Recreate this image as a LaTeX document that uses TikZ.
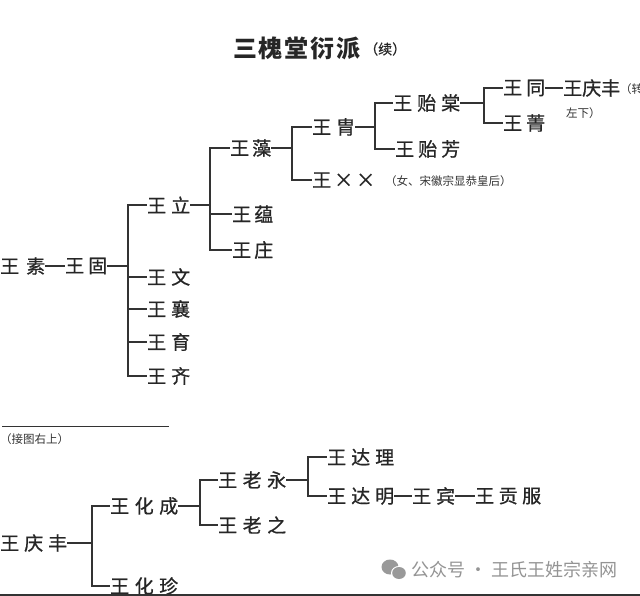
\documentclass[tikz,border=0pt]{standalone}
\usepackage{fontspec}
\newfontfamily\cjk{Noto Sans CJK SC}
\newfontfamily\cjkm[FakeBold=0.7]{Noto Sans CJK SC}
\usetikzlibrary{calc}
\newcommand\wtwo[3]{\hbox to #1pt{#2\hfill #3}}
\newcommand\wthree[4]{\hbox to #1pt{#2\hfill #3\hfill #4}}
\tikzset{
  nm/.style={anchor=west, inner sep=0pt, font=\cjkm\fontsize{19}{19}\selectfont, text=black!85},
  small/.style={anchor=west, inner sep=0pt, font=\cjk\fontsize{11.5}{11.5}\selectfont, text=black!80},
  ln/.style={draw=black!80, line width=1.3pt},
}
\begin{document}
\begin{tikzpicture}[x=1pt,y=-1pt]
\useasboundingbox (0,0) rectangle (640,596);
\fill[white] (0,0) rectangle (640,596);
% title
\node[anchor=west, inner sep=0pt, font=\cjk\bfseries\fontsize{24}{24}\selectfont, text=black!85] (title) at (233,48) {\hbox to 127pt{三\hfill 槐\hfill 堂\hfill 衍\hfill 派}};
\node[anchor=west, inner sep=0pt, font=\cjkm\fontsize{14}{14}\selectfont, text=black!85] (xu) at (364,49) {（续）};
% top tree
\node[nm] (su) at (0,266) {\wtwo{45}{王}{素}};
\node[nm] (gu) at (65,266) {\wtwo{42}{王}{固}};
\node[nm] (li) at (147,205) {\wtwo{43}{王}{立}};
\node[nm] (wen) at (147,277) {\wtwo{43}{王}{文}};
\node[nm] (xiang) at (147,309) {\wtwo{43}{王}{襄}};
\node[nm] (yu) at (147,342) {\wtwo{43}{王}{育}};
\node[nm] (qi) at (147,376) {\wtwo{43}{王}{齐}};
\node[nm] (zao) at (230,148) {\wtwo{41}{王}{藻}};
\node[nm] (yun) at (232,214) {\wtwo{41}{王}{蕴}};
\node[nm] (zhuang) at (232,250) {\wtwo{41}{王}{庄}};
\node[nm] (zhou) at (312,127) {\wtwo{43}{王}{胄}};
\node[nm] (xx) at (312,180) {\wthree{63}{王}{×}{×}};
\node[small] (note) at (385,181) {（女、宋徽宗显恭皇后）};
\node[nm] (yitang) at (393,103) {\wthree{67}{王}{贻}{棠}};
\node[nm] (yifang) at (395,149) {\wthree{65}{王}{贻}{芳}};
\node[nm] (tong) at (503,88) {\wtwo{42}{王}{同}};
\node[nm] (qf1) at (563,88) {\wthree{57}{王}{庆}{丰}};
\node[small] (zhuan) at (620,89) {（转};
\node[small] (zuoxia) at (566,113) {左下）};
\node[nm] (jing) at (503,123) {\wtwo{42}{王}{菁}};
\coordinate (bgu) at (128,266);
\coordinate (bli) at (210,205);
\coordinate (bzao) at (292,148);
\coordinate (bzhou) at (375,127);
\coordinate (byt) at (484,103);
\draw[ln] (su.east) -- (gu.west);
\draw[ln] (gu.east) -- (bgu);
\foreach \c in {li,wen,xiang,yu,qi} \draw[ln] (bgu) |- (\c.west);
\draw[ln] (li.east) -- (bli);
\foreach \c in {zao,yun,zhuang} \draw[ln] (bli) |- (\c.west);
\draw[ln] (zao.east) -- (bzao);
\foreach \c in {zhou,xx} \draw[ln] (bzao) |- (\c.west);
\draw[ln] (zhou.east) -- (bzhou);
\foreach \c in {yitang,yifang} \draw[ln] (bzhou) |- (\c.west);
\draw[ln] (yitang.east) -- (byt);
\foreach \c in {tong,jing} \draw[ln] (byt) |- (\c.west);
\draw[ln] (tong.east) -- (qf1.west);
% separator
\coordinate (s1) at (2,426);
\coordinate (s2) at (169,426);
\draw[draw=black!80, line width=1pt] (s1) -- (s2);
\node[small] (jie) at (0,439) {（接图右上）};
% bottom tree
\node[nm] (qf2) at (0,543) {\wthree{67}{王}{庆}{丰}};
\node[nm] (huacheng) at (110,506) {\wthree{68}{王}{化}{成}};
\node[nm] (huazhen) at (110,586) {\wthree{68}{王}{化}{珍}};
\node[nm] (laoyong) at (218,480) {\wthree{68}{王}{老}{永}};
\node[nm] (laozhi) at (218,525) {\wthree{68}{王}{老}{之}};
\node[nm] (dali) at (327,457) {\wthree{67}{王}{达}{理}};
\node[nm] (daming) at (327,496) {\wthree{67}{王}{达}{明}};
\node[nm] (bin) at (412,496) {\wtwo{43}{王}{宾}};
\node[nm] (gongfu) at (475,496) {\wthree{66}{王}{贡}{服}};
\coordinate (bqf) at (92,543);
\coordinate (bhc) at (200,506);
\coordinate (bly) at (308,480);
\draw[ln] (qf2.east) -- (bqf);
\foreach \c in {huacheng,huazhen} \draw[ln] (bqf) |- (\c.west);
\draw[ln] (huacheng.east) -- (bhc);
\foreach \c in {laoyong,laozhi} \draw[ln] (bhc) |- (\c.west);
\draw[ln] (laoyong.east) -- (bly);
\foreach \c in {dali,daming} \draw[ln] (bly) |- (\c.west);
\draw[ln] (daming.east) -- (bin.west);
\draw[ln] (bin.east) -- (gongfu.west);
% watermark
\fill[black!40] (390,567) ellipse (8.5 and 7.5);
\fill[white] (399,573) ellipse (8 and 7);
\fill[black!40] (399,573) ellipse (6.8 and 6);
\node[anchor=west, inner sep=0pt, font=\cjk\fontsize{18}{18}\selectfont, text=black!42] (wm) at (411,570) {公众号 · 王氏王姓宗亲网};
% bottom bar
\fill[black!80] (0,593.5) rectangle (640,596);
\end{tikzpicture}
\end{document}
